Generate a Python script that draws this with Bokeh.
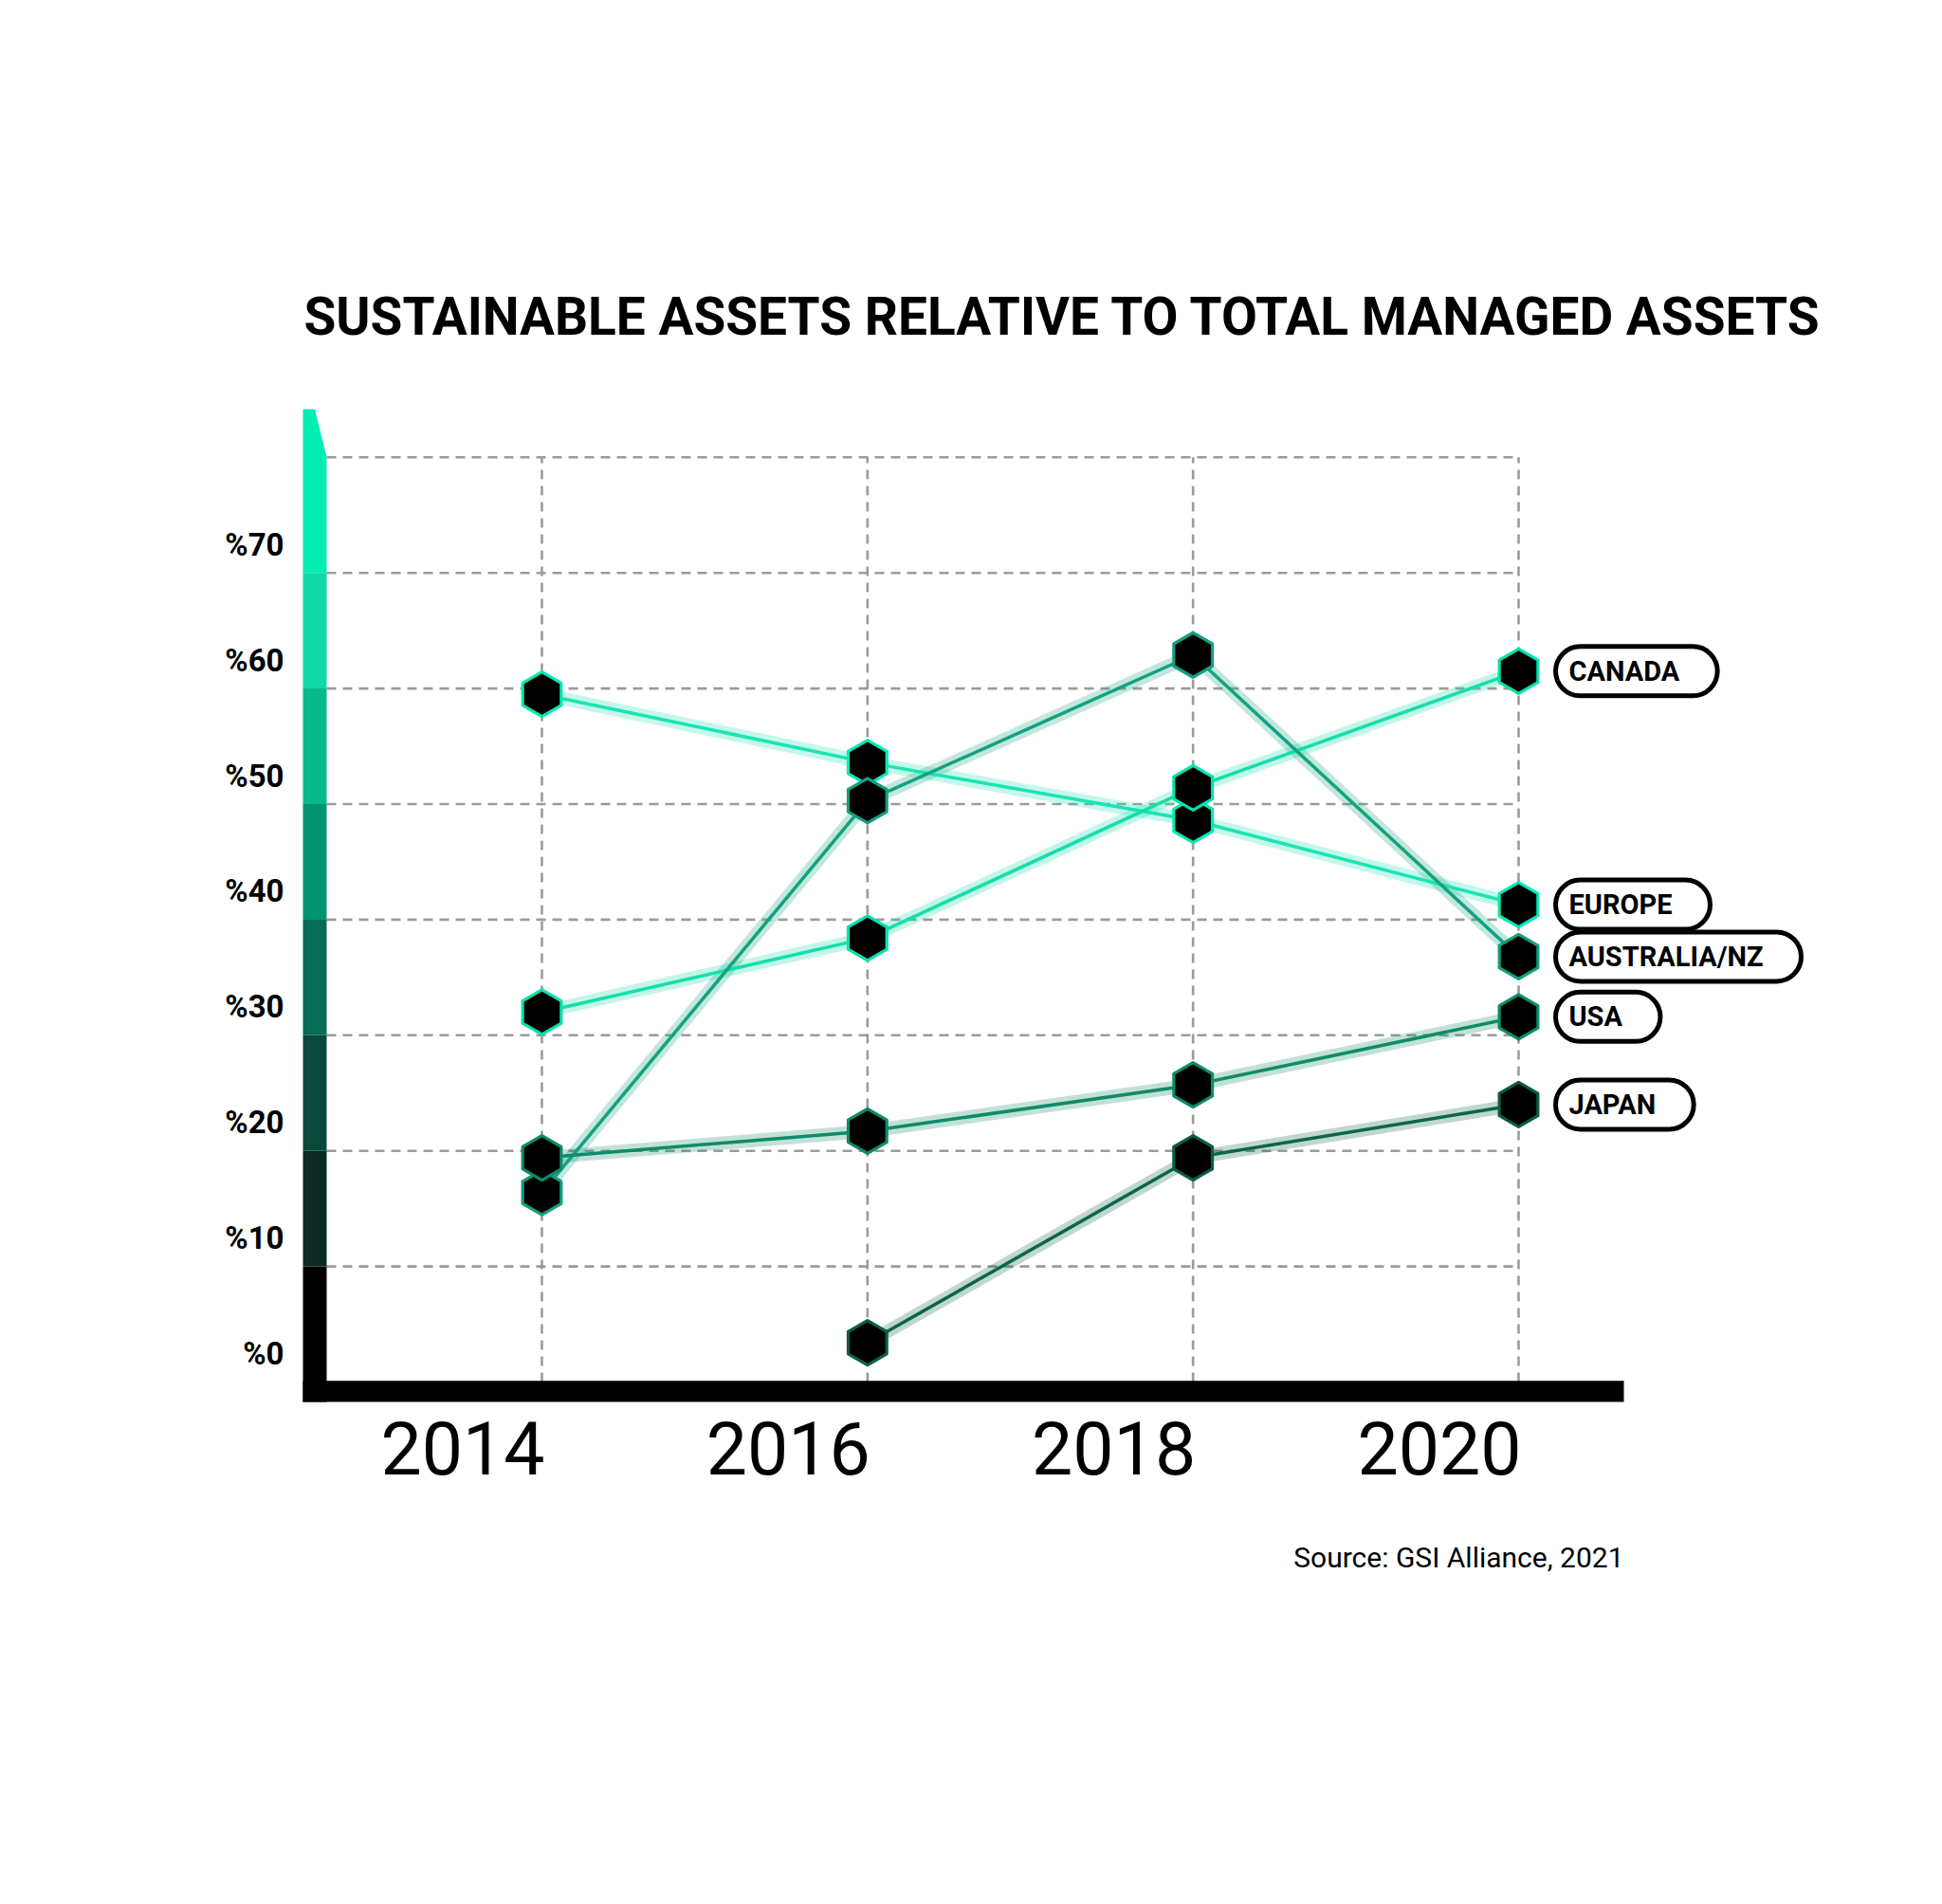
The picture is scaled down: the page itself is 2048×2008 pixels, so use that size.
import numpy as np
from bokeh.plotting import figure
from bokeh.models import Range1d, Label, ColumnDataSource
from bokeh.embed import file_html
from bokeh.resources import INLINE

# ---------------- data ----------------
years = [2014, 2016, 2018, 2020]
series_names = ["EUROPE", "CANADA", "AUSTRALIA/NZ", "USA", "JAPAN"]
europe = [59.5, 53.6, 48.6, 41.3]
canada = [32.0, 38.4, 51.4, 61.5]
australia_nz = [16.4, 50.3, 62.9, 36.8]
usa = [19.4, 21.7, 25.7, 31.6]
japan = [np.nan, 3.4, 19.4, 24.0]
series_values = [europe, canada, australia_nz, usa, japan]
line_colors = ["#18E4B2", "#12DEA9", "#13A27F", "#0E8B68", "#0A654B"]
marker_colors = ["#05EAB3", "#05E2AA", "#11A07E", "#0D8C69", "#0A5E47"]
label_names = ["CANADA", "EUROPE", "AUSTRALIA/NZ", "USA", "JAPAN"]
label_series = [1, 0, 2, 3, 4]
y_ticks = [0, 10, 20, 30, 40, 50, 60, 70]
y_tick_labels = ["%0", "%10", "%20", "%30", "%40", "%50", "%60", "%70"]
grid_levels = [10, 20, 30, 40, 50, 60, 70, 80]
band_edges = [10, 20, 30, 40, 50, 60, 70]
band_colors = ["#000000", "#0B2A23", "#0B4A3B", "#086B53", "#039373", "#07B98D", "#10D8A6", "#00EDB3"]
title_text = "SUSTAINABLE ASSETS RELATIVE TO TOTAL MANAGED ASSETS"
source_text = "Source: GSI Alliance, 2021"

# ---------------- layout (page pixels) ----------------
PLOT_L, PLOT_R, PLOT_T, PLOT_B = 319, 1712, 431, 1478
X2014_PX, X2020_PX = 571, 1601
PX_PER_YEAR = (X2020_PX - X2014_PX) / 6.0
Y0_PX, PX_PER_PCT = 1457, 12.19
BAR_W_PX = 25
W, H = 2032, 1990
PAGE_L, PAGE_T = 0, 0

def dx(px):
    return 2014 + (px - X2014_PX) / PX_PER_YEAR

def dy(px):
    return (Y0_PX - px) / PX_PER_PCT

p = figure(width=W, height=H,
           x_range=Range1d(dx(PAGE_L), dx(PAGE_L + W)),
           y_range=Range1d(dy(PAGE_T + H), dy(PAGE_T)),
           output_backend="svg", toolbar_location=None,
           x_axis_location=None, y_axis_location=None, title_location=None,
           min_border=0, outline_line_color=None,
           background_fill_color="white", border_fill_color="white")
p.grid.grid_line_color = None

xL = dx(PLOT_L)
xBar = dx(PLOT_L + BAR_W_PX)
yBot = dy(PLOT_B)
yTop = dy(PLOT_T)

# ---------------- grid ----------------
grid_color = "#9B9B9B"
p.segment(x0=[xBar] * len(grid_levels), y0=grid_levels,
          x1=[years[-1]] * len(grid_levels), y1=grid_levels,
          line_color=grid_color, line_width=2.6, line_dash="10 7")
p.segment(x0=years, y0=[0] * len(years), x1=years, y1=[grid_levels[-1]] * len(years),
          line_color=grid_color, line_width=2.6, line_dash="10 7")

# ---------------- axis bars ----------------
bottoms = [yBot] + band_edges[:-1]
tops = band_edges
p.quad(left=[xL] * len(tops), right=[xBar] * len(tops), bottom=bottoms, top=tops,
       fill_color=band_colors[:-1], line_color=None)
xmid = (xL + xBar) / 2
p.patch(x=[xL, xmid, xBar, xBar, xL],
        y=[yTop, yTop, grid_levels[-1], band_edges[-1], band_edges[-1]],
        fill_color=band_colors[-1], line_color=None)
p.quad(left=[xL], right=[dx(PLOT_R)], bottom=[yBot], top=[0.1],
       fill_color="black", line_color=None)

# ---------------- lines ----------------
for vals, c in zip(series_values, line_colors):
    src = ColumnDataSource(dict(x=years, y=vals))
    p.line("x", "y", source=src, line_color=c, line_alpha=0.26, line_width=14)
for vals, c in zip(series_values, line_colors):
    src = ColumnDataSource(dict(x=years, y=vals))
    p.line("x", "y", source=src, line_color=c, line_width=3.5)

# ---------------- markers ----------------
for vals, c in zip(series_values, marker_colors):
    src = ColumnDataSource(dict(x=years, y=vals))
    p.scatter("x", "y", source=src, marker="hex", angle=np.pi / 2, size=47,
              fill_color="black", line_color=c, line_width=3.2, line_join="round")

# ---------------- texts ----------------
p.add_layout(Label(x=dx(320), y=dy(333), text=title_text, text_font="Roboto",
                   text_font_style="bold", text_font_size="55px",
                   text_color="black", text_align="left", text_baseline="alphabetic"))

for t, lab in zip(y_ticks, y_tick_labels):
    p.add_layout(Label(x=dx(299), y=t + 30 / PX_PER_PCT, text=lab, text_font="Roboto",
                       text_font_style="bold", text_font_size="33px", text_color="black",
                       text_align="right", text_baseline="middle"))

for yr in years:
    p.add_layout(Label(x=yr, x_offset=3, y=dy(1526), text=str(yr), text_font="Roboto",
                       text_font_size="77px", text_color="black",
                       text_align="right", text_baseline="alphabetic"))

p.add_layout(Label(x=dx(1712), y=dy(1642), text=source_text, text_font="Roboto",
                   text_font_size="30px", text_color="black",
                   text_align="right", text_baseline="alphabetic"))

for name, si in zip(label_names, label_series):
    p.add_layout(Label(x=years[-1], y=series_values[si][-1], x_offset=39, text=name,
                       text_font="Roboto", text_font_style="bold", text_font_size="29px",
                       text_color="black", text_align="left", text_baseline="middle",
                       background_fill_color="white", border_line_color="black",
                       border_line_width=5, border_radius=27,
                       padding=dict(left=14, right=40, top=9, bottom=9)))

open("out.html", "w").write(file_html(p, INLINE))
